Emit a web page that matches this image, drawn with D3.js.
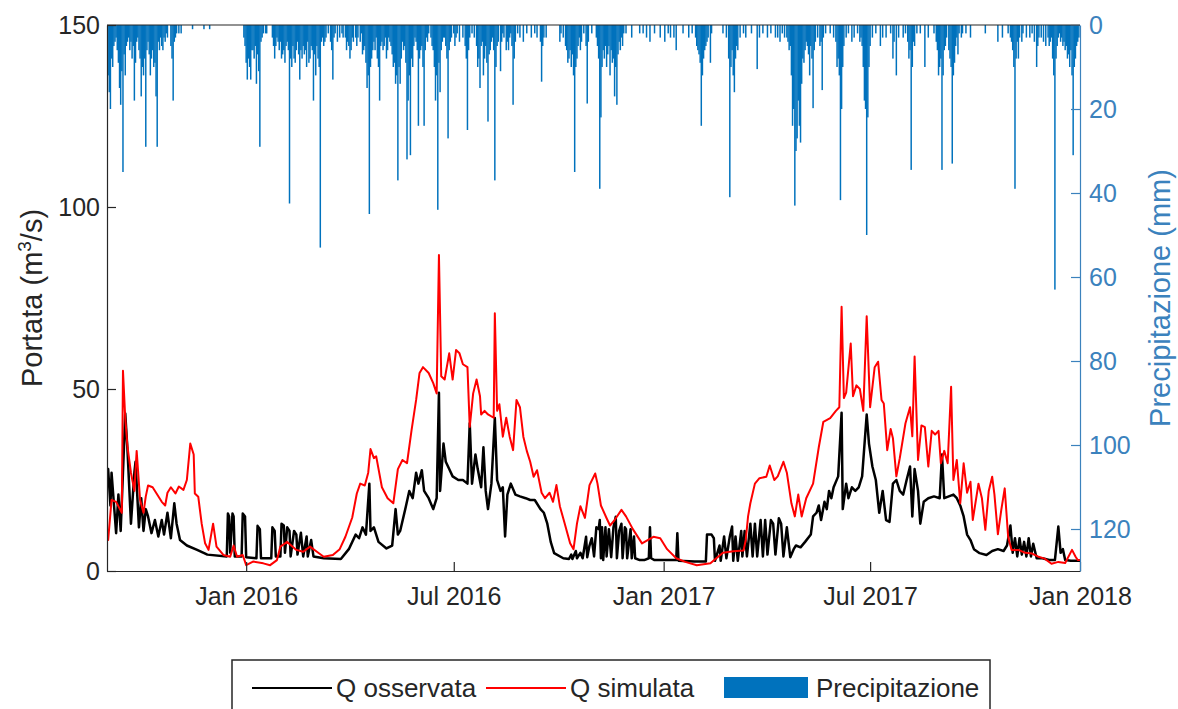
<!DOCTYPE html>
<html lang="it">
<head>
<meta charset="UTF-8">
<script src="https://cdn.jsdelivr.net/npm/d3@7"></script>
<style>
  body { margin: 0; background: #fff; }
  svg { display: block; font-family: "Liberation Sans", Arial, sans-serif; }
</style>
</head>
<body>
<div id="chart"></div>
<script>
// giorni contati dal 1 settembre 2015
const startDate = Date.UTC(2015, 8, 1)
const endDate = Date.UTC(2018, 0, 1)

const xTickDates = ['2016-01-01', '2016-07-01', '2017-01-01', '2017-07-01', '2018-01-01']
const xTickLabels = ['Jan 2016', 'Jul 2016', 'Jan 2017', 'Jul 2017', 'Jan 2018']
const portataTicks = [0, 50, 100, 150]
const precipTicks = [0, 20, 40, 60, 80, 100, 120]
const legendLabels = ['Q osservata', 'Q simulata', 'Precipitazione']

// [giorno, mm]
const precipitazione = [
  [0,6],[1,12],[2,16],[3,20],[4,8],[5,10],[6,5],[7,4],[8,3],[9,6],[10,9],[11,15],[12,19],[13,11],[14,35],[15,7],
  [16,12],[17,5],[18,4],[19,3],[20,6],[21,4],[22,8],[23,5],[24,18],[25,9],[26,4],[27,3],[28,6],[29,8],[30,17],
  [31,10],[32,12],[33,8],[34,29],[35,6],[36,4],[37,7],[38,12],[39,8],[40,6],[41,10],[42,9],[43,17],[44,29],[45,4],
  [46,6],[47,3],[48,5],[49,6],[50,3],[51,4],[52,2],[53,3],[56,5],[57,8],[58,18],[59,4],[60,3],[61,2],[63,2],[65,2],
  [75,1],[85,1],[90,1],
  [120,3],[121,5],[122,9],[123,13],[124,8],[125,10],[126,13],[127,6],[128,6],[129,8],[130,5],[131,14],[132,7],
  [133,11],[134,29],[135,4],[136,3],[137,2],[139,2],[140,2],[145,3],[146,5],[147,8],[148,5],[149,3],[150,4],[151,6],
  [152,4],[153,8],[154,7],[155,6],[156,9],[157,5],[158,4],[159,6],[160,42.5],[161,8],[162,10],[163,5],[164,8],
  [165,9],[166,6],[167,4],[168,7],[169,13],[170,6],[171,8],[172,5],[173,7],[174,6],[175,10],[176,4],[177,9],[178,8],
  [179,5],[180,6],[181,18],[182,7],[183,12],[184,5],[185,8],[186,10],[187,53],[188,4],[189,3],[190,5],[191,4],
  [192,3],[194,2],[196,4],[197,6],[198,13],[199,3],[200,2],[202,4],
  [204,3],[206,2],[207,3],[209,3],[210,6],[211,4],[212,5],[213,8],[214,6],[215,3],[216,4],[218,3],[219,5],[220,3],
  [222,4],[223,2],[224,7],[225,6],[226,5],[227,9],[228,15],[229,12],[230,45],[231,10],[232,8],[233,6],[234,4],
  [235,6],[236,3],[237,8],[238,10],[239,18],[240,5],[241,4],[242,6],[243,5],[244,3],[245,8],[246,6],[247,3],[248,4],
  [249,5],[250,7],[251,10],[252,9],[253,14],[254,12],[255,37],[256,10],[257,14],[258,8],[259,4],[260,6],[261,5],
  [262,9],[263,32],[264,18],[265,12],[266,31],[267,8],[268,10],[269,5],[270,3],[271,4],[272,6],[273,24],[274,8],
  [275,6],[276,5],[277,10],[278,24],[279,6],[280,3],[281,4],[282,2],[284,3],[285,5],[286,6],[287,10],[288,18],
  [289,12],[290,44],[291,9],[292,16],[293,6],[294,4],[295,3],[296,3],[297,5],[298,8],[299,27],[300,6],[301,4],
  [302,3],[304,2],[305,5],[306,3],[307,2],[309,4],
  [312,3],[314,5],[315,8],[316,25],[317,6],[318,3],[320,2],[322,3],[324,5],[325,10],[326,8],[327,15],[328,5],
  [329,4],[330,12],[331,8],[332,5],[333,9],[334,23],[335,7],[336,6],[337,4],[338,3],[339,6],[340,37],[341,10],
  [342,5],[343,4],[345,11],[346,4],[347,2],[348,3],[350,6],[351,4],[352,6],[353,3],[354,2],[355,5],[356,19],[357,8],
  [358,4],[360,2],[362,3],[365,4],[368,2],[372,3],[375,2],[377,3],[380,4],[381,13.5],[382,5],[383,3],[385,3],
  [397,4],[398,2],[400,3],[402,5],[403,6],[404,9],[405,8],[406,6],[407,10],[408,7],[409,12],[410,35],[411,10],
  [412,8],[413,5],[414,3],[415,6],[416,4],[418,2],[420,5],[421,18.7],[422,4],[425,2],[429,3],[430,5],[431,8],
  [432,39],[433,22],[434,10],[435,6],[436,8],[437,5],[438,10],[439,7],[440,5],[441,12],[442,6],[443,9],[444,8],
  [445,17],[446,10],[447,19],[448,7],[449,4],[450,6],[451,3],[452,5],[453,2],[455,2],
  [460,3],[467,2],[470,2],[473,3],[476,4],[480,2],[485,3],[489,4],[492,2],[494,3],[497,3],[499,6],[505,2],[510,3],
  [513,2],[516,3],[517,5],[518,6],[519,7],[520,9],[521,24],[522,12],[523,8],[524,6],[525,5],[526,4],[527,3],[529,9],
  [530,2],
  [540,2],[543,3],[545,8],[546,41],[547,10],[548,6],[549,12],[550,16],[551,8],[552,5],[553,6],[555,3],[558,2],
  [560,3],[565,2],[570,10.5],[572,3],[575,2],[579,3],[582,2],[586,3],[588,3],[590,4],[592,2],[594,3],[596,3],[597,4],
  [598,6],[599,5],[600,12],[601,24],[602,20],[603,43],[604,30],[605,27],[606,18],[607,24],[608,28],[609,14],[610,8],
  [611,9],[612,6],[613,4],[614,5],[615,7],[616,12],[617,5],[618,8],[619,19.8],[620,6],[621,4],[623,3],[625,5],
  [626,4],[627,15.5],[628,3],[630,2],
  [634,2],[637,3],[639,4],[640,10],[641,8],[642,12],[643,41.7],[644,20],[645,10],[646,5],[648,3],[650,2],[653,4],
  [655,3],[658,2],[660,4],[661,3],[662,5],[663,10],[664,18],[665,20],[666,50],[667,22],[668,10],[669,5],[671,3],
  [674,2],[678,5],[680,3],[683,3],[687,2],[689,8],[690,4],[692,12],[694,3],[698,3],[700,2],[702,4],[703,8],[704,6],
  [705,34.5],[706,10],[707,4],[708,5],[710,2],[713,2],
  [717,10],[720,3],[725,2],[727,4],[728,6],[729,12],[730,10],[731,8],[732,34.5],[733,12],[734,6],[735,5],[736,3],
  [738,6],[739,8],[740,10],[741,33],[742,12],[743,9],[744,5],[745,3],[746,7],[747,2],[749,3],[750,2],[753,2],[757,3],
  [770,2],[781,4],[785,3],[790,2],[792,3],[793,4],[794,6],[795,10],[796,39],[797,8],[798,4],[799,8],[800,3],[802,4],
  [803,2],[806,3],[809,3],[811,2],[813,4],[815,10],[816,5],[817,3],[819,3],[821,4],[823,5],[825,3],[826,5],[827,4],
  [828,3],[829,8],[830,12],[831,63],[832,8],[833,5],[834,3],[835,2],[836,4],[837,3],[838,5],[839,4],[840,6],[841,5],
  [842,8],[843,7],[844,10],[845,6],[846,12],[847,31],[848,10],[849,8],[850,5],[851,4],[852,3]
]

// [giorno, m3/s]
const qOsservata = [
  [0,24],[1,28],[3,18],[4,27],[8,10.4],[10,21],[12,11],[16,43.3],[18,33],[21,13],[24,27],[25,30],[28,12],[30,20],
  [32,11],[34,17],[36,15],[39,10.4],[42,14],[45,9.5],[48,14],[50,10],[53,16],[56,9],[59,18.6],[61,13],[64,8.5],
  [70,7],[79,5.8],[88,4.5],[105,4],[106,15.8],[107,15],[108,5],[110,15.8],[111,15],[112,4],[118,4],[119,15.8],
  [121,15],[122,3.8],[131,3.5],[132,12.4],[134,11.5],[135,3.5],[144,3.5],[145,12],[147,11],[148,4],[152,4],[153,13],
  [155,12.5],[156,5],[158,12],[160,11],[161,4],[164,11],[166,10],[167,4.5],[170,10.5],[172,4],[175,9.5],[176,4],
  [179,8.5],[181,4],[190,3.5],[205,3.3],[212,6],[218,10],[221,9],[224,12],[227,10],[230,24],[231,11],[234,12],
  [238,8],[245,6.2],[250,7],[253,17],[255,10],[257,11],[262,17.7],[265,22],[268,20],[271,27],[273,24],[276,27.7],
  [278,22],[282,20],[286,17],[289,20],[291,49],[292,22],[295,35],[297,30],[300,28],[303,26],[308,25],[312,25],
  [316,24],[318,40.6],[320,24],[323,32],[325,28],[328,23],[330,34],[332,22],[334,17],[337,24],[340,42],[342,25],
  [345,22],[347,23],[349,9.5],[351,21],[354,24],[358,21],[362,20.5],[367,20],[371,19.5],[375,19.5],[380,17],
  [383,16],[386,13],[389,8],[392,4.9],[400,3.5],[405,3.3],[407,4.5],[408,3.3],[411,5.5],[412,3.5],[415,5],[417,3.5],
  [420,9.4],[421,3.8],[423,7],[425,9],[427,4],[429,12],[431,11.5],[432,14],[433,3.5],[434,12],[435,3],[437,12],
  [438,4],[440,11.5],[442,3.8],[444,12],[446,14.9],[447,3.5],[449,11],[451,13],[452,3.5],[454,12],[455,11.5],
  [456,3.5],[459,11.5],[460,3.5],[462,9.5],[463,3.5],[467,3],[471,3],[475,3.5],[476,12],[477,3.5],[480,3],[487,3],
  [499,3],[500,10.4],[501,2.8],[515,2.6],[525,2.6],[526,10],[530,10],[532,9],[533,2.8],[537,7],[538,2.8],[541,9.5],
  [543,3.5],[546,9.5],[548,12.2],[549,2.8],[551,9.5],[553,2.8],[556,11],[557,4],[559,11],[561,4],[564,13],[566,4],
  [568,13],[570,4],[573,14],[575,4],[577,14],[579,4.5],[582,14],[584,13],[586,4.5],[589,14.5],[591,13],[593,4],
  [596,12],[599,3.8],[602,6],[604,7],[608,6.5],[612,8],[617,10],[619,15],[622,16],[624,18],[626,14],[629,19],
  [631,17],[633,22],[635,20],[637,23],[641,26],[644,43.5],[645,17],[648,24],[650,20],[653,23],[656,22],[659,23],
  [662,26],[666,43],[668,35],[671,28.7],[674,25],[677,16],[680,22],[683,14],[686,13.5],[689,24],[692,25],[695,22],
  [698,21],[701,25],[704,28.7],[706,15],[708,28],[711,22],[713,13],[716,19],[720,20],[725,20.5],[730,20],[732,32],
  [734,20],[738,20.5],[742,21],[745,20],[748,18],[751,15],[754,10],[757,8.5],[760,6],[765,4.9],[771,4.4],[776,5.5],
  [781,6],[786,5.5],[789,7],[792,12.5],[794,5],[796,9],[798,4],[800,9],[802,4.5],[804,8],[806,4],[808,9],[810,4],
  [812,7.5],[815,3.5],[820,3.5],[826,3],[831,3],[834,12.2],[836,5],[838,6],[840,3],[845,2.8],[850,2.8],[853,2.8]
]

const qSimulata = [
  [0,10],[1,8.5],[4,19.5],[8,19],[13,16],[14,55],[16,42],[18,34],[21,27],[24,22],[26,33],[29,19.5],[32,16],
  [34,20.5],[36,23.5],[40,23],[44,21],[48,19],[51,18],[53,21.5],[56,23],[60,21.3],[63,23.2],[67,22.3],[70,25],
  [73,35],[76,32],[77,21.3],[80,20.4],[83,13],[86,7.6],[89,5.8],[93,13],[96,6.7],[102,4.4],[108,3.9],[111,7],
  [114,3.9],[119,4.4],[122,1.6],[128,2.6],[137,2.1],[143,1.6],[149,3],[152,6.7],[158,8],[166,5.8],[172,5.3],
  [178,6.7],[184,5.3],[190,3.9],[198,4.4],[204,6],[209,9.4],[215,14.7],[219,21.3],[222,24],[226,23.5],[229,27],
  [231,33.5],[234,31],[236,31.5],[241,23],[246,20],[251,18.6],[255,28],[259,30.5],[263,29.6],[267,38.7],[271,47],
  [274,54.4],[277,56],[282,54.4],[286,51.6],[289,48.8],[291,86.8],[293,53.5],[296,52.6],[300,59.8],[303,52.6],
  [306,60.7],[309,59.8],[312,56.8],[316,56],[318,39.6],[321,48.8],[324,52.6],[327,48],[328,43],[331,44],[334,43],
  [339,42.1],[340,70.8],[342,44],[344,45.8],[347,36.9],[350,42.1],[353,36.9],[356,33.2],[359,47],[362,45],
  [365,36.9],[368,33],[371,30],[374,25.9],[377,27.7],[381,21.5],[384,20],[388,21.5],[391,19],[394,23.6],[397,17.8],
  [401,13.3],[406,7.6],[409,6],[412,13],[415,17.8],[419,14.6],[423,23.6],[428,26.8],[430,24],[433,18],[438,14.5],
  [441,12.5],[445,14],[451,16.8],[455,15],[461,11.5],[469,7.6],[479,9.4],[485,9],[491,6],[499,3.5],[507,2.5],
  [517,1.6],[529,2.1],[536,4],[540,5],[549,5.4],[558,5.6],[560,8.6],[562,15],[564,18.6],[568,24],[572,25.5],
  [578,25.9],[581,29],[585,25],[588,26],[593,30],[596,27],[600,18.6],[603,15],[606,21],[609,15],[613,20],[619,24],
  [624,34],[628,41],[634,42],[639,44],[642,45],[644,72.6],[646,47.5],[648,49],[652,62.5],[654,48],[657,51],
  [660,50],[663,44],[666,70],[669,45],[673,56],[676,57.5],[679,47],[681,46],[684,33.2],[687,39],[689,36.5],
  [692,26],[695,31],[700,40.6],[704,45],[706,37],[708,58.9],[711,30.5],[714,40],[717,39.5],[720,28.7],[723,38.5],
  [726,37.5],[729,38.5],[731,29.6],[734,33],[737,29.6],[740,50.6],[742,25],[745,30.5],[748,18.6],[751,29.6],
  [754,21.5],[757,24.5],[759,14],[764,24],[767,20],[770,11.3],[773,22],[776,25.9],[778,21],[781,10.1],[784,16.8],
  [787,22.7],[790,9.4],[793,5.8],[799,5.8],[805,5],[811,4.8],[816,4],[822,3.4],[828,2],[834,2.5],[840,2.2],
  [846,5.8],[849,4],[851,3],[853,3]
]

const width = 1178
const height = 709
const plot = { left: 107, right: 1080, top: 25, bottom: 571 }
const axisColor = '#262626'
const blue = '#0072bd'
const rightColor = '#3b82bd'
const day = d => new Date(startDate + d * 864e5)

const svg = d3.select('#chart').append('svg')
  .attr('width', width)
  .attr('height', height)

const x = d3.scaleUtc().domain([new Date(startDate), new Date(endDate)]).range([plot.left, plot.right])
const yL = d3.scaleLinear().domain([0, 150]).range([plot.bottom, plot.top])
const yR = d3.scaleLinear().domain([0, 130]).range([plot.top, plot.bottom])

svg.append('clipPath').attr('id', 'clip')
  .append('rect')
  .attr('x', plot.left).attr('y', plot.top)
  .attr('width', plot.right - plot.left).attr('height', plot.bottom - plot.top)

//Precipitazione
const bw = x(day(1)) - x(day(0))
svg.append('g')
  .attr('clip-path', 'url(#clip)')
  .selectAll('rect')
  .data(precipitazione)
  .enter()
  .append('rect')
  .attr('x', d => x(day(d[0])) - bw * 0.65)
  .attr('y', yR(0))
  .attr('width', bw * 1.3)
  .attr('height', d => yR(d[1]) - yR(0))
  .style('fill', blue)

//Linee
const line = d3.line().x(d => x(day(d[0]))).y(d => yL(d[1]))
const lines = svg.append('g').attr('clip-path', 'url(#clip)')
lines.append('path')
  .datum(qOsservata)
  .attr('d', line)
  .style('fill', 'none')
  .style('stroke', '#000')
  .style('stroke-width', 2.5)
  .style('stroke-linejoin', 'round')
lines.append('path')
  .datum(qSimulata)
  .attr('d', line)
  .style('fill', 'none')
  .style('stroke', '#f00')
  .style('stroke-width', 2)
  .style('stroke-linejoin', 'round')

//Assi
const xAxis = d3.axisBottom(x)
  .tickValues(xTickDates.map(s => new Date(s + 'T00:00:00Z')))
  .tickFormat((d, i) => xTickLabels[i])
  .tickSizeInner(-9).tickSizeOuter(0).tickPadding(16)
const gx = svg.append('g')
  .attr('transform', `translate(0,${plot.bottom})`)
  .call(xAxis)

const gl = svg.append('g')
  .attr('transform', `translate(${plot.left},0)`)
  .call(d3.axisLeft(yL).tickValues(portataTicks).tickSizeInner(-9).tickSizeOuter(0).tickPadding(7))

const gr = svg.append('g')
  .attr('transform', `translate(${plot.right},0)`)
  .call(d3.axisRight(yR).tickValues(precipTicks).tickSizeInner(-9).tickSizeOuter(0).tickPadding(9))

;[gx, gl].forEach(g => {
  g.selectAll('path, line').style('stroke', axisColor).style('stroke-width', 1.2)
  g.selectAll('text').style('fill', axisColor).style('font-size', '25px').attr('font-family', null)
})
gr.selectAll('path, line').style('stroke', rightColor).style('stroke-width', 1.2)
gr.selectAll('text').style('fill', rightColor).style('font-size', '25px').attr('font-family', null)

svg.append('line')
  .attr('x1', plot.left).attr('x2', plot.right)
  .attr('y1', plot.top).attr('y2', plot.top)
  .style('stroke', axisColor).style('stroke-width', 1.2)

//Etichette assi
const yLabel = svg.append('text')
  .attr('transform', `translate(42,${(plot.top + plot.bottom) / 2}) rotate(-90)`)
  .attr('text-anchor', 'middle')
  .style('font-size', '29px')
  .style('fill', axisColor)
yLabel.append('tspan').text('Portata (m')
yLabel.append('tspan').attr('dy', -11).style('font-size', '19px').text('3')
yLabel.append('tspan').attr('dy', 11).text('/s)')

svg.append('text')
  .attr('transform', `translate(1170,${(plot.top + plot.bottom) / 2}) rotate(-90)`)
  .attr('text-anchor', 'middle')
  .style('font-size', '29px')
  .style('fill', rightColor)
  .text('Precipitazione (mm)')

//Legenda
const legend = svg.append('g')
legend.append('rect')
  .attr('x', 232).attr('y', 660)
  .attr('width', 758).attr('height', 70)
  .style('fill', '#fff').style('stroke', axisColor).style('stroke-width', 1.5)
const items = [
  { label: legendLabels[0], type: 'line', color: '#000', x: 252 },
  { label: legendLabels[1], type: 'line', color: '#f00', x: 486 },
  { label: legendLabels[2], type: 'bar', color: blue, x: 724 }
]
items.forEach(o => {
  if (o.type === 'line') {
    legend.append('line')
      .attr('x1', o.x).attr('x2', o.x + 80)
      .attr('y1', 688).attr('y2', 688)
      .style('stroke', o.color).style('stroke-width', 2)
  } else {
    legend.append('rect')
      .attr('x', o.x).attr('y', 677)
      .attr('width', 84).attr('height', 21)
      .style('fill', o.color)
  }
  legend.append('text')
    .attr('x', o.x + (o.type === 'line' ? 84 : 92))
    .attr('y', 697)
    .style('font-size', '26px')
    .style('fill', axisColor)
    .text(o.label)
})
</script>
</body>
</html>
